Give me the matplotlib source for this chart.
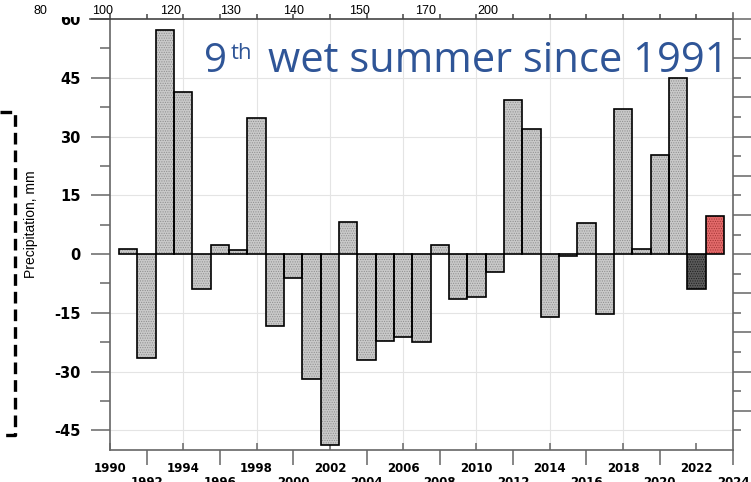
import numpy as np
import matplotlib.pyplot as plt
from matplotlib.lines import Line2D
from matplotlib.patches import Rectangle

years = list(range(1991, 2024))
precip = [1.4, -26.4, 57.3, 41.4, -8.9, 2.2, 1.0, 34.7, -18.3, -6.1,
          -31.8, -48.8, 8.3, -27.0, -22.3, -21.1, -22.4, 2.3, -11.5, -11.0,
          -4.5, 39.2, 31.8, -16.0, -0.5, 7.9, -15.4, 37.0, 1.2, 25.3,
          45.0, -9.0, 9.6]

yticks = [-45, -30, -15, 0, 15, 30, 45, 60]
xticks_upper = list(range(1990, 2025, 4))
xticks_lower = list(range(1992, 2025, 4))

# leftover labels of the other chart on top
top_labels = ['80', '100', '120', '130', '140', '150', '170', '200']
top_label_x = [1986.2, 1989.6, 1993.3, 1996.55, 2000.0, 2003.6, 2007.2, 2010.6]

W, H = 751, 482
fig = plt.figure(figsize=(W / 100, H / 100), dpi=100)
ax = fig.add_axes([110 / W, 1 - 450 / H, 623 / W, 431 / H])


def fx(px):
    return px / W


def fy(py):
    return 1 - py / H


axis_col = '#666666'

# bar colours: plain grey, 2022 dark, 2023 red
faces = []
dots = []
for yr in years:
    if yr == 2022:
        faces.append('#5a5a5a')
        dots.append('#1e1e1e')
    elif yr == 2023:
        faces.append('#e36a6a')
        dots.append('#a03434')
    else:
        faces.append('#c9c9c9')
        dots.append('#8e8e8e')

plt.rcParams['hatch.linewidth'] = 0.5
ax.bar(years, precip, width=1.0, color=faces, edgecolor=dots,
       linewidth=0, hatch='.......', zorder=2)
ax.bar(years, precip, width=1.0, fill=False, edgecolor='black',
       linewidth=1.2, zorder=3)

ax.set_xlim(1990, 2024)
ax.set_ylim(-50, 60)

# grid
for x in xticks_upper[1:-1]:
    ax.axvline(x, color='#e4e4e4', lw=0.8, zorder=0)
for y in yticks[:-1]:
    if y != 0:
        ax.axhline(y, color='#e4e4e4', lw=0.8, zorder=0)

# y axis
ax.set_yticks(yticks)
ax.set_yticklabels([str(v) for v in yticks], fontweight='bold',
                   fontsize=10.5, family='DejaVu Sans')
ax.set_yticks(np.arange(-45, 60, 7.5), minor=True)
ax.tick_params(axis='y', which='major', direction='out', length=14,
               width=1.1, color=axis_col, pad=7)
ax.tick_params(axis='y', which='minor', direction='out', length=7,
               width=1.1, color=axis_col)
ax.set_ylabel('Precipitation, mm', family='Liberation Sans', fontsize=10)
ax.yaxis.set_label_coords((38 - 110) / 623, (450 - 224) / 431)

# x axis, staggered labels
ax.set_xticks(xticks_upper, [str(v) for v in xticks_upper])
ax.set_xticks(xticks_lower, [str(v) for v in xticks_lower], minor=True)
ax.tick_params(axis='x', which='major', direction='in', length=5,
               width=1.1, color=axis_col, pad=9, labelsize=8.5)
ax.tick_params(axis='x', which='minor', direction='out', length=11,
               width=1.1, color=axis_col, pad=8, labelsize=8.5)
for lab in ax.get_xticklabels(which='both'):
    lab.set_fontweight('bold')
    lab.set_family('DejaVu Sans')

for s in ['left', 'bottom', 'right']:
    ax.spines[s].set_color(axis_col)
    ax.spines[s].set_linewidth(1.2)
ax.spines['top'].set_color('#444444')
ax.spines['top'].set_linewidth(1.2)

# right side ticks
axr = ax.twinx()
axr.set_ylim(-50, 60)
axr.set_yticks(range(-40, 61, 10))
axr.set_yticks(range(-45, 60, 10), minor=True)
axr.tick_params(axis='y', which='major', direction='out', length=14,
                width=1.1, color=axis_col, labelright=False)
axr.tick_params(axis='y', which='minor', direction='out', length=6,
                width=1.1, color=axis_col)
for s in axr.spines.values():
    s.set_visible(False)

# top ticks of the overlaid chart
axt = ax.twiny()
axt.set_xlim(1990, 2024)
axt.set_xticks(range(1990, 2023, 2))
axt.tick_params(axis='x', direction='out', length=3.5, width=1.1,
                color='#444444', labeltop=False)
for s in axt.spines.values():
    s.set_visible(False)

# hide the top of the "60" label
fig.add_artist(Rectangle((fx(58), fy(17)), fx(38), 17 / H,
                         facecolor='white', edgecolor='none', zorder=5))
for lab, x in zip(top_labels, top_label_x):
    t = fig.text(0, fy(11), lab, ha='center', va='center', fontsize=9,
                 family='Liberation Sans', zorder=6)
    t.set_x(fx(110 + (x - 1990) * 623 / 34))

fig.add_artist(Line2D([fx(90), fx(110)], [fy(19), fy(19)], color='#444444',
                      lw=1.2))
fig.add_artist(Line2D([fx(732.5), fx(732.5)], [fy(19), fy(13)],
                      color=axis_col, lw=1.2))

# dashed bracket on the left
fig.add_artist(Line2D([0, fx(15), fx(15), 0],
                      [fy(112), fy(112), fy(435), fy(435)],
                      color='black', lw=2.4, linestyle=(0, (3.5, 1.8))))

# headline
blue = '#2f5597'
fig.text(fx(204), fy(72), '9', color=blue, fontsize=29, family='Open Sans',
         va='baseline', ha='left')
fig.text(fx(231), fy(59), 'th', color=blue, fontsize=16, family='Open Sans',
         va='baseline', ha='left')
fig.text(fx(729), fy(72), 'wet summer since 1991', color=blue, fontsize=30,
         family='Open Sans', va='baseline', ha='right')

fig.savefig('out.png', dpi=100)
